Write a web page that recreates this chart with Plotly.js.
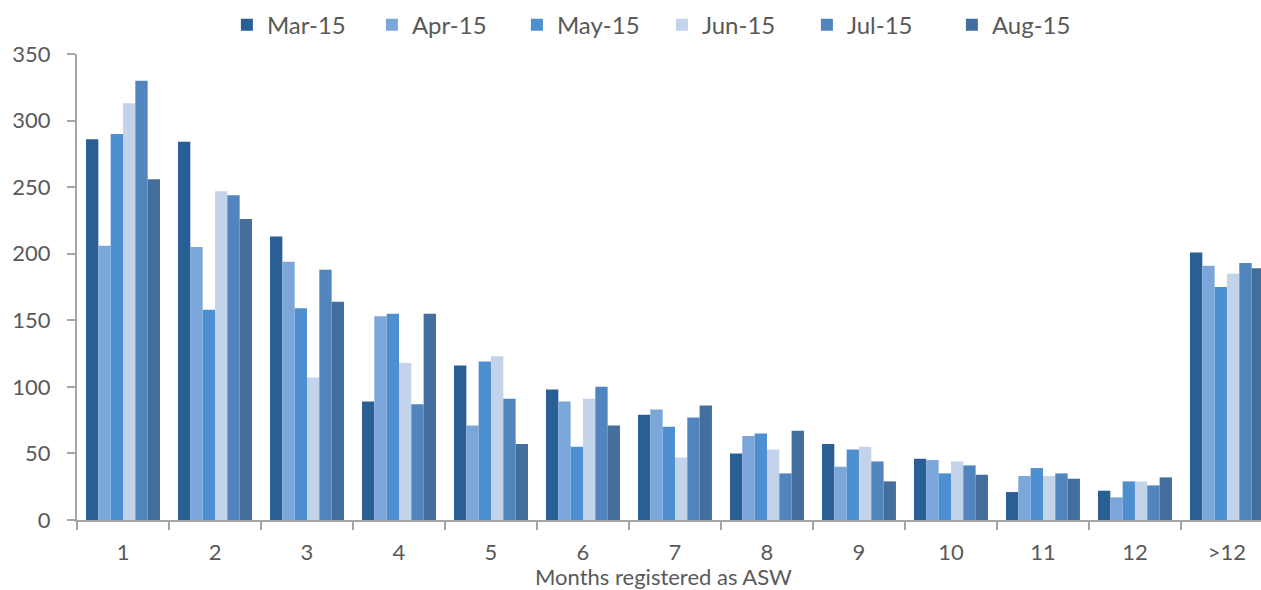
<!DOCTYPE html>
<html>
<head>
<meta charset="utf-8">
<script src="https://cdn.plot.ly/plotly-3.0.1.min.js"></script>
<style>html,body{margin:0;padding:0;background:#fff;}#chart{width:1261px;height:590px;}</style>
</head>
<body>
<div id="chart"></div>
<script>
const categories = ["1","2","3","4","5","6","7","8","9","10","11","12",">12"];
const seriesNames = ["Mar-15","Apr-15","May-15","Jun-15","Jul-15","Aug-15"];
const mar15 = [286,284,213,89,116,98,79,50,57,46,21,22,201];
const apr15 = [206,205,194,153,71,89,83,63,40,45,33,17,191];
const may15 = [290,158,159,155,119,55,70,65,53,35,39,29,175];
const jun15 = [313,247,107,118,123,91,47,53,55,44,33,29,185];
const jul15 = [330,244,188,87,91,100,77,35,44,41,35,26,193];
const aug15 = [256,226,164,155,57,71,86,67,29,34,31,32,189];
const seriesValues = [mar15, apr15, may15, jun15, jul15, aug15];
const colors = ["#2a5f96","#7aa6da","#4d8fcf","#c3d3ea","#5085bd","#436e9d"];
const xTitle = "Months registered as ASW";

const font = "Lato, 'Open Sans', sans-serif";
const traces = seriesNames.map((name, i) => ({
  type: "bar",
  name: name,
  x: categories,
  y: seriesValues[i],
  marker: {color: colors[i], line: {width: 0}}
}));

const layout = {
  width: 1261, height: 590,
  margin: {l: 77, r: 0, t: 54, b: 70},
  paper_bgcolor: "#fff", plot_bgcolor: "#fff",
  font: {family: font, color: "#595959", size: 21},
  barmode: "group",
  bargap: 0.196,
  bargroupgap: 0,
  showlegend: true,
  legend: {
    orientation: "h", x: 0.494, xanchor: "center", y: 1.062, yanchor: "middle",
    font: {family: font, size: 24, color: "#595959"},
    itemwidth: 30, entrywidth: 100, entrywidthmode: "pixels", traceorder: "normal"
  },
  xaxis: {
    type: "category",
    range: [-0.5, 12.37],
    showline: true, linecolor: "#a6a6a6", linewidth: 2,
    ticks: "outside", tickson: "boundaries", ticklen: 8, tickcolor: "#a6a6a6", tickwidth: 2,
    ticklabelstandoff: 12,
    tickfont: {family: font, size: 22, color: "#595959"},
    showgrid: false, zeroline: false,
    automargin: false
  },
  yaxis: {
    range: [0, 350], tickvals: [0,50,100,150,200,250,300,350],
    showline: true, linecolor: "#a6a6a6", linewidth: 2,
    ticks: "outside", ticklen: 8, tickcolor: "#a6a6a6", tickwidth: 2,
    ticklabelstandoff: 12,
    tickfont: {family: font, size: 22, color: "#595959"},
    showgrid: false, zeroline: false,
    automargin: false
  },
  annotations: [{
    text: xTitle, xref: "paper", yref: "paper", x: 0.495, y: -0.1205,
    xanchor: "center", yanchor: "middle", showarrow: false,
    font: {family: font, size: 22, color: "#595959"}
  }]
};

Plotly.newPlot("chart", traces, layout, {displayModeBar: false, responsive: false});
</script>
</body>
</html>
